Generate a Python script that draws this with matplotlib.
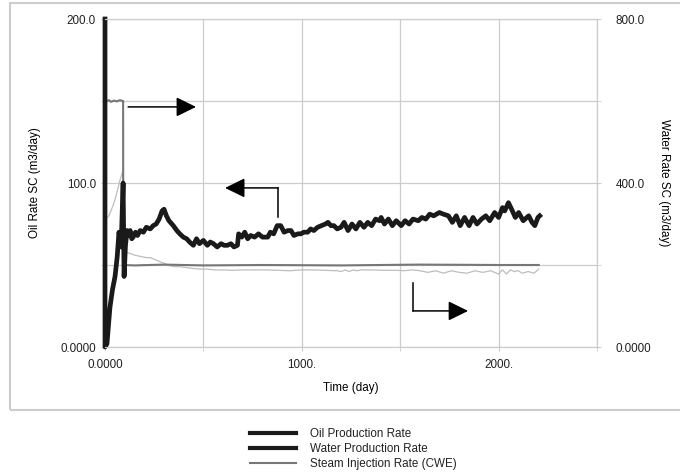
import matplotlib.pyplot as plt
from matplotlib.patches import Rectangle

plt.rcParams['font.family'] = ['Liberation Sans', 'DejaVu Sans']
plt.rcParams['font.size'] = 8.4

# ---- data ----
# oil production rate (left axis, m3/day)
oil_t = [0, 0, 10, 18, 25, 38, 51, 62, 71, 82, 92, 97, 104, 112, 120, 128, 136, 143,
         155, 165, 179, 195, 210, 230, 245, 260, 275, 290, 300, 312, 325, 347, 365,
         380, 398, 415, 430, 449, 465, 480, 500, 520, 535, 551, 570, 590, 605, 622,
         640, 655, 673, 679, 695, 710, 725, 740, 760, 780, 800, 827, 840, 857, 875,
         893, 910, 929, 945, 960, 980, 995, 1010, 1030, 1045, 1061, 1080, 1100, 1120,
         1133, 1148, 1163, 1180, 1199, 1215, 1235, 1255, 1275, 1295, 1316, 1335, 1355,
         1375, 1395, 1403, 1420, 1440, 1460, 1480, 1505, 1525, 1545, 1565, 1592, 1610,
         1630, 1650, 1670, 1699, 1720, 1745, 1765, 1785, 1805, 1827, 1850, 1870, 1890,
         1913, 1935, 1955, 1980, 2000, 2020, 2031, 2050, 2066, 2085, 2102, 2125, 2153,
         2170, 2184, 2200, 2209]
oil_q = [200, 0, 2, 14, 24, 35, 43, 55, 70, 61, 100, 43, 62, 71, 68, 71, 66, 67,
         70, 68, 71, 70, 73, 72, 74, 75, 78, 83, 84, 80, 77, 74, 71,
         69, 67, 66, 64, 62, 66, 63, 65, 62, 64, 63, 61, 63, 62, 62,
         63, 61, 62, 69, 67, 70, 66, 68, 67, 69, 67, 67, 70, 69, 74,
         74, 70, 71, 71, 68, 69, 69, 70, 70, 72, 71, 73, 74, 75,
         76, 74, 74, 72, 73, 76, 71, 75, 72, 76, 73, 76, 74,
         78, 77, 79, 75, 78, 74, 77, 74, 77, 75, 78, 77, 79,
         78, 81, 80, 82, 81, 80, 76, 80, 74, 79, 74, 79, 75,
         78, 80, 77, 82, 79, 85, 83, 88, 84, 79, 82, 77, 80,
         76, 74, 79, 80]

# water production rate (right axis, m3/day)
water_t = [12, 20, 30, 40, 51, 62, 75, 87, 92, 95, 110, 130, 150, 170, 190, 210, 230,
           250, 270, 290, 310, 330, 350, 380, 410, 440, 480, 520, 560, 600, 650, 700,
           760, 820, 880, 940, 1000, 1060, 1120, 1180, 1200, 1220, 1240, 1260, 1280,
           1300, 1360, 1420, 1480, 1520, 1560, 1600, 1640, 1680, 1720, 1760, 1800,
           1840, 1880, 1920, 1960, 2000, 2020, 2040, 2060, 2080, 2100, 2120, 2150,
           2180, 2204]
water_q = [316, 320, 332, 344, 360, 380, 405, 424, 430, 232, 230, 228, 224, 222, 220,
           218, 218, 214, 210, 206, 202, 198, 196, 196, 194, 192, 190, 190, 188, 188,
           187, 188, 188, 188, 187, 186, 188, 188, 187, 186, 184, 188, 184, 188, 186,
           188, 188, 187, 187, 186, 188, 186, 182, 186, 180, 186, 182, 180, 186, 182,
           186, 178, 188, 178, 188, 184, 186, 180, 184, 180, 190]

# steam injection rate CWE (right axis, m3/day)
steam_t = [0, 10, 20, 30, 45, 60, 75, 92, 93, 150, 300, 500, 800, 1200, 1600, 2000, 2204]
steam_q = [600, 600, 602, 598, 601, 599, 602, 600, 200, 199, 201, 199, 200, 199, 201,
           200, 200]

x_ticks = [0, 1000, 2000]
x_labels = ['0.0000', '1000.', '2000.']
oil_ticks = [0, 100, 200]
oil_labels = ['0.0000', '100.0', '200.0']
water_ticks = [0, 400, 800]
water_labels = ['0.0000', '400.0', '800.0']

# ---- figure ----
fig = plt.figure(figsize=(6.8, 4.74), dpi=100)
ax = fig.add_axes([105 / 680, 1 - 347 / 474, 492 / 680, 328 / 474])
ax2 = ax.twinx()

ax.set_xlim(0, 2500)
ax.set_ylim(0, 200)
ax2.set_ylim(0, 800)

grid_c = '#cccccc'
ax.set_xticks(x_ticks, x_labels)
ax.set_xticks([500, 1500, 2500], minor=True)
ax.set_yticks(oil_ticks, oil_labels)
ax.set_yticks([50, 150], minor=True)
ax2.set_yticks(water_ticks, water_labels)
ax2.set_yticks([200, 600], minor=True)
ax.grid(True, which='both', color=grid_c, lw=0.9)
ax.set_axisbelow(True)

for a in (ax, ax2):
    for s in a.spines.values():
        s.set_color(grid_c)
ax2.spines['left'].set_visible(False)
ax.tick_params(axis='x', which='both', length=3, color=grid_c, pad=5.5, labelcolor='#222222')
ax.tick_params(axis='y', which='both', length=3, color=grid_c, pad=3.5, labelcolor='#222222')
ax2.tick_params(axis='y', which='both', length=3, color=grid_c, pad=10.5, labelcolor='#222222')

# right-axis series drawn into ax with the right-axis transform (keeps them under oil)
l_water, = ax.plot(water_t, water_q, color='#bdbdbd', lw=0.9,
                   transform=ax2.transData, label='Water Production Rate')
l_steam, = ax.plot(steam_t, steam_q, color='#777777', lw=1.5,
                   transform=ax2.transData, label='Steam Injection Rate (CWE)')
l_oil, = ax.plot(oil_t, oil_q, color='#1a1a1a', lw=3.4, clip_on=False, zorder=3,
                 solid_joinstyle='round', label='Oil Production Rate')

ax.set_xlabel('Time (day)', labelpad=8)
ax.set_ylabel('Oil Rate SC (m3/day)', labelpad=14)
ax2.set_ylabel('Water Rate SC (m3/day)', rotation=270, va='bottom', labelpad=5)

# direction arrows
arw = dict(arrowstyle='-|>,head_length=1.22,head_width=0.6', color='black', lw=1.1,
           mutation_scale=10, shrinkA=0, shrinkB=0)
ax.annotate('', xy=(0.185, 0.732), xytext=(0.047, 0.732), xycoords='axes fraction', arrowprops=arw)
ax.plot([0.352, 0.352], [0.396, 0.485], transform=ax.transAxes, color='black', lw=1.1)
ax.annotate('', xy=(0.244, 0.485), xytext=(0.352, 0.485), xycoords='axes fraction', arrowprops=arw)
ax.plot([0.626, 0.626], [0.195, 0.110], transform=ax.transAxes, color='black', lw=1.1)
ax.annotate('', xy=(0.738, 0.110), xytext=(0.626, 0.110), xycoords='axes fraction', arrowprops=arw)

# outer frame
fig.add_artist(Rectangle((10 / 680, 1 - 410 / 474), 690 / 680, 407 / 474,
                         transform=fig.transFigure, fill=False, edgecolor=grid_c, lw=1.5))

leg = fig.legend([l_oil, l_water, l_steam],
                 [l_oil.get_label(), l_water.get_label(), l_steam.get_label()],
                 loc='center left', bbox_to_anchor=(250 / 680, 1 - 449 / 474),
                 frameon=False, borderpad=0, borderaxespad=0, handlelength=3.9,
                 handletextpad=1.25, labelspacing=0.25)
# legend shows the water entry as a thick black line, as in the source chart
leg.legend_handles[1].set_color('#1a1a1a')
leg.legend_handles[1].set_linewidth(3.0)
leg.legend_handles[0].set_linewidth(3.0)
for t in leg.get_texts():
    t.set_color('#222222')

fig.savefig('out.png', dpi=100)
